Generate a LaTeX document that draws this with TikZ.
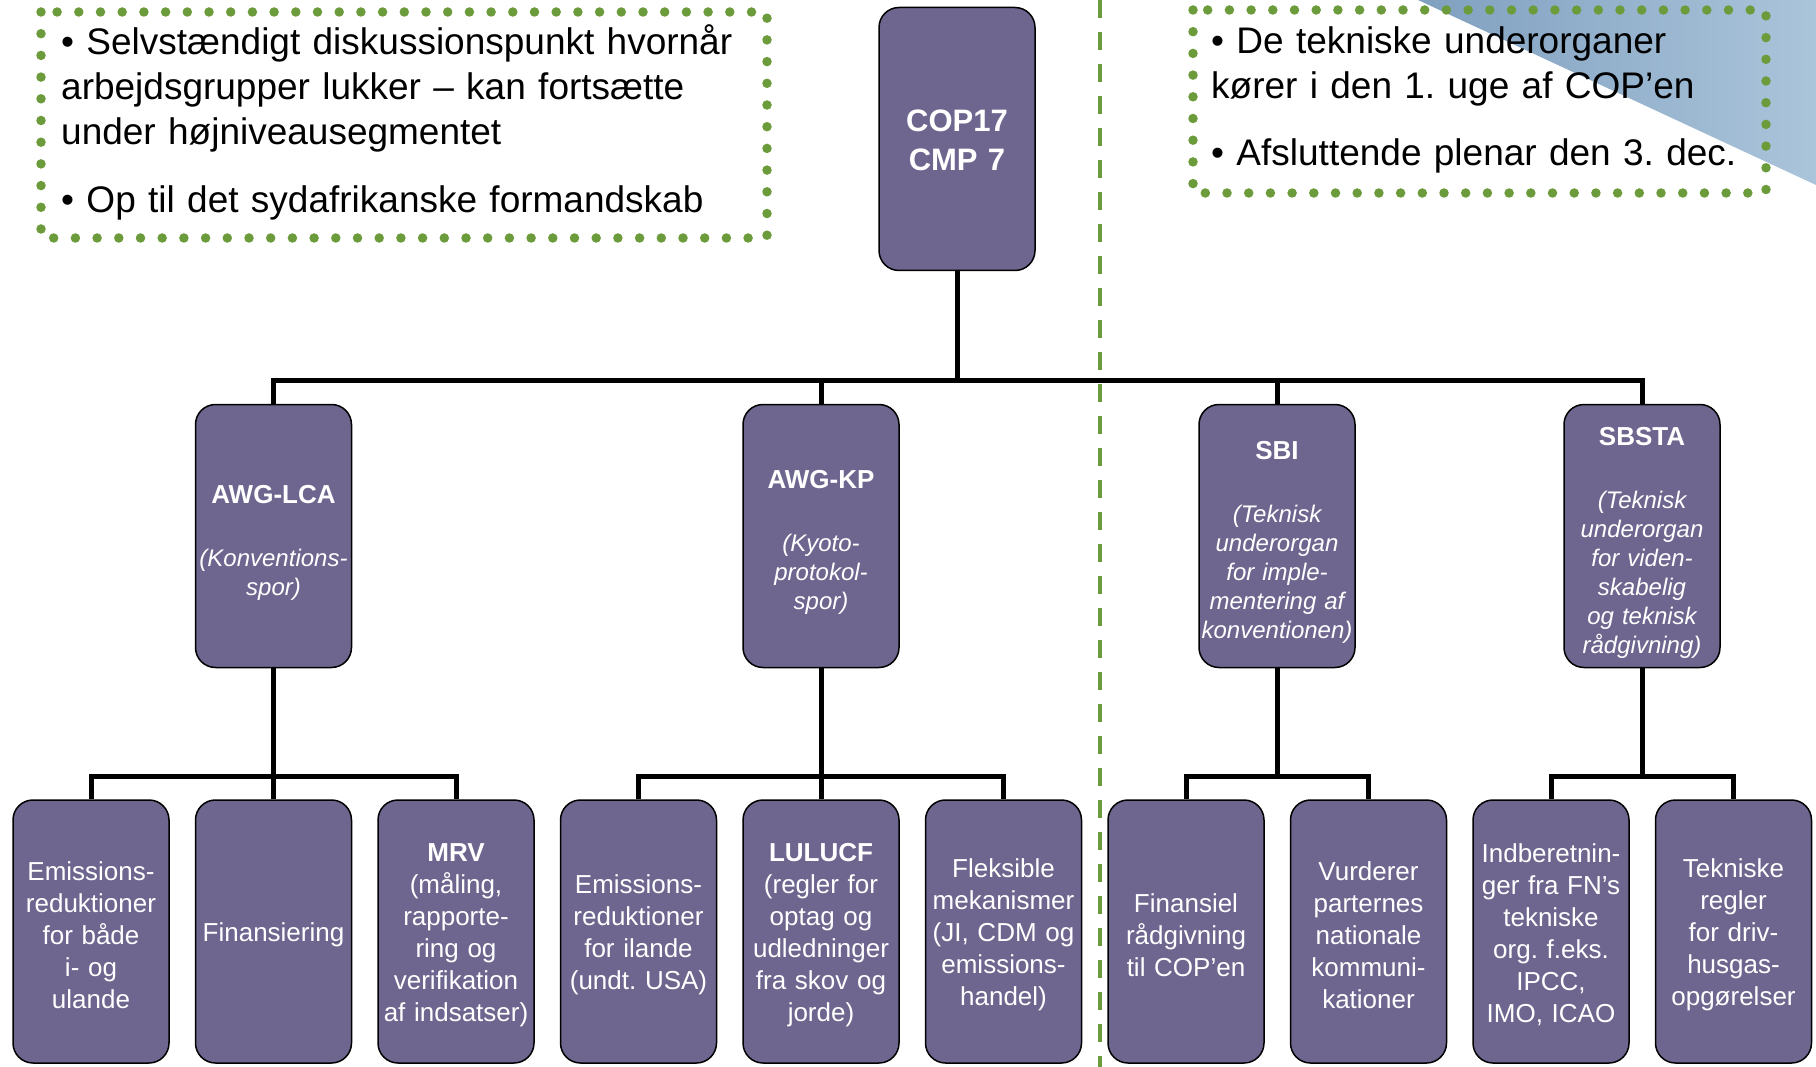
\documentclass[tikz,border=0pt]{standalone}
\usepackage{fontspec}
\setmainfont{Liberation Sans}
\frenchspacing
\definecolor{boxfill}{RGB}{110,102,143}
\definecolor{dotgreen}{RGB}{107,155,58}
\definecolor{triL}{RGB}{128,160,192}
\definecolor{triR}{RGB}{170,196,218}
\newcommand{\myraise}[1]{\rule{0pt}{#1}}
\begin{document}
\begin{tikzpicture}[x=1pt,y=-1pt,
  orgbox/.style={draw=black, line width=1.5pt, fill=boxfill, rounded corners=20pt,
    minimum height=263pt, text width=156pt, text=white, align=center, inner sep=0pt},
  conn/.style={draw=black, line width=5pt},
  dotbox/.style={draw=dotgreen, line width=9.5pt, line cap=round, dash pattern=on 0pt off 21.7pt},
  divider/.style={draw=dotgreen, line width=3.5pt, dash pattern=on 18pt off 14pt},
  bodytext/.style={font=\fontsize{26}{32}\selectfont},
  subtext/.style={font=\fontsize{24}{29}\selectfont\itshape},
  notetext/.style={font=\fontsize{37}{45}\selectfont, inner sep=0pt, align=left, anchor=north west}
]
\useasboundingbox (0,0) rectangle (1816,1067);
\fill[white] (0,0) rectangle (1816,1067);
\shade[left color=triL, right color=triR] (1418,0) -- (1816,0) -- (1816,185) -- cycle;

% note boxes
\draw[dotbox] (41,12) rectangle (767,238);
\node[notetext, text width=740pt] (noteL) at (61,24.5)
  {• Selvstændigt diskussionspunkt hvornår\\arbejdsgrupper lukker – kan fortsætte\\under højniveausegmentet\\[23pt]• Op til det sydafrikanske formandskab};
\draw[dotbox] (1193,10) rectangle (1766,193);
\node[notetext, text width=560pt] (noteR) at (1211,26)
  {• De tekniske underorganer\\kører i den 1. uge af COP’en\\[22pt]• Afsluttende plenar den 3. dec.};

% top
\node[orgbox, font=\fontsize{31}{39}\selectfont\bfseries] (cop) at (957,139) {\myraise{25pt}COP17\\CMP 7};

% second level
\node[orgbox, subtext] (lca) at (273.5,536)
  {{\fontsize{26}{29}\selectfont\bfseries\upshape\myraise{31pt}AWG-LCA}\\[34pt](Konventions-\\spor)};
\node[orgbox, subtext] (kp) at (821,536)
  {{\fontsize{26}{29}\selectfont\bfseries\upshape\myraise{31pt}AWG-KP}\\[34pt](Kyoto-\\protokol-\\spor)};
\node[orgbox, subtext] (sbi) at (1277,536)
  {{\fontsize{26}{29}\selectfont\bfseries\upshape\myraise{31pt}SBI}\\[34pt](Teknisk\\underorgan\\for imple-\\mentering af\\konventionen)};
\node[orgbox, subtext] (sbsta) at (1642,536)
  {{\fontsize{26}{29}\selectfont\bfseries\upshape\myraise{31pt}SBSTA}\\[34pt](Teknisk\\underorgan\\for viden-\\skabelig\\og teknisk\\rådgivning)};

% bottom level
\node[orgbox, bodytext] (e1) at (91,931.5) {\myraise{26pt}Emissions-\\reduktioner\\for både\\i- og\\ulande};
\node[orgbox, bodytext] (fin) at (273.5,931.5) {\myraise{26pt}Finansiering};
\node[orgbox, bodytext] (mrv) at (456,931.5) {\myraise{26pt}\textbf{MRV}\\(måling,\\rapporte-\\ring og\\verifikation\\af indsatser)};
\node[orgbox, bodytext] (e4) at (638.5,931.5) {\myraise{26pt}Emissions-\\reduktioner\\for ilande\\(undt. USA)};
\node[orgbox, bodytext] (lulucf) at (821,931.5) {\myraise{26pt}\textbf{LULUCF}\\(regler for\\optag og\\udledninger\\fra skov og\\jorde)};
\node[orgbox, bodytext] (flex) at (1003.5,931.5) {\myraise{26pt}Fleksible\\mekanismer\\(JI, CDM og\\emissions-\\handel)};
\node[orgbox, bodytext] (finr) at (1186,931.5) {\myraise{26pt}Finansiel\\rådgivning\\til COP’en};
\node[orgbox, bodytext] (vur) at (1368.5,931.5) {\myraise{26pt}Vurderer\\parternes\\nationale\\kommuni-\\kationer};
\node[orgbox, bodytext] (ind) at (1551,931.5) {\myraise{26pt}Indberetnin-\\ger fra FN’s\\tekniske\\org. f.eks.\\IPCC,\\IMO, ICAO};
\node[orgbox, bodytext] (tek) at (1733.5,931.5) {\myraise{26pt}Tekniske\\regler\\for driv-\\husgas-\\opgørelser};

% connectors
\draw[conn] (cop.south) -- ++(0,109) coordinate (topbar);
\draw[conn] (lca.north) |- (topbar) -| (sbsta.north);
\draw[conn] (kp.north) |- (topbar);
\draw[conn] (sbi.north) |- (topbar);

\draw[conn] (lca.south) -- ++(0,108) coordinate (lcabar);
\draw[conn] (e1.north) |- (lcabar) -| (mrv.north);
\draw[conn] (fin.north) -- (lcabar);

\draw[conn] (kp.south) -- ++(0,108) coordinate (kpbar);
\draw[conn] (e4.north) |- (kpbar) -| (flex.north);
\draw[conn] (lulucf.north) -- (kpbar);

\draw[conn] (sbi.south) -- ++(0,108) coordinate (sbibar);
\draw[conn] (finr.north) |- (sbibar) -| (vur.north);

\draw[conn] (sbsta.south) -- ++(0,108) coordinate (sbstabar);
\draw[conn] (ind.north) |- (sbstabar) -| (tek.north);

% divider
\draw[divider] (1100,0) -- (1100,1067);
\end{tikzpicture}
\end{document}
